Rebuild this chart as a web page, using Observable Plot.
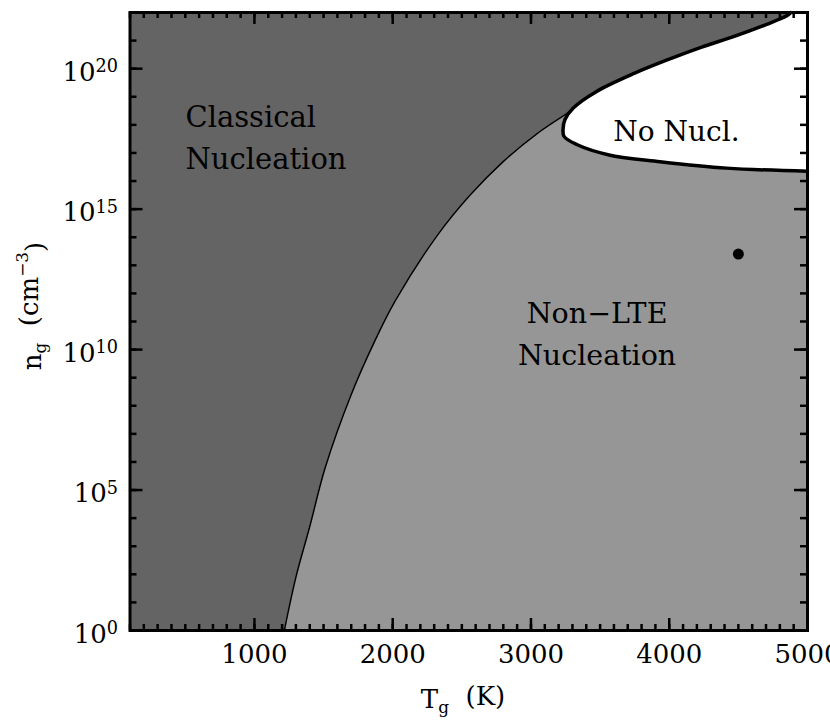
<!DOCTYPE html>
<html><head><meta charset="utf-8">
<script src="https://cdn.jsdelivr.net/npm/d3@7"></script>
<script src="https://cdn.jsdelivr.net/npm/@observablehq/plot@0.6"></script>
<style>body{margin:0;background:#fff}</style>
</head><body><div id="chart"></div>
<script>
// Classical / non-LTE boundary (T in K, log10 n)
const boundaryT    = [1216, 1300, 1400, 1512, 1700, 1870, 2018, 2320, 2560, 2801, 3042, 3331];
const boundaryLogN = [0, 1.9, 3.7, 5.8, 8.4, 10.3, 11.73, 14.05, 15.5, 16.7, 17.68, 18.62];
// "No Nucl." region boundary, ordered by density
const noNuclT    = [5000, 4415, 3933, 3572, 3331, 3239, 3232, 3246, 3306, 3475, 3750, 3990, 4230, 4470, 4700, 4850, 4880];
const noNuclLogN = [16.35, 16.46, 16.69, 16.92, 17.30, 17.59, 17.84, 18.19, 18.60, 19.19, 19.84, 20.32, 20.76, 21.15, 21.57, 21.88, 22.0];
// marked point
const pointT = [4500];
const pointLogN = [13.4];
// ticks
const xMajorTicks = [1000, 2000, 3000, 4000, 5000];
const xMinorTicks = d3.range(100, 5001, 100);
const yMajorExp = [0, 5, 10, 15, 20];
const yMinorExp = d3.range(0, 23, 1);

const TMIN = 100, TMAX = 5000;
const W = 830, H = 726, mL = 129.5, mR = 23, mT = 12, mB = 96;
const pw = W - mL - mR, ph = H - mT - mB;
const dark = "#646464", light = "#969696";
const font = "DejaVu Serif";

const boundary = boundaryT.map((t, i) => ({T: t, n: 10 ** boundaryLogN[i]}));
const noNucl = noNuclT.map((t, i) => ({T: t, n: 10 ** noNuclLogN[i]}));
const points = pointT.map((t, i) => ({T: t, n: 10 ** pointLogN[i]}));

const svg = Plot.plot({
  width: W, height: H,
  marginLeft: mL, marginRight: mR, marginTop: mT, marginBottom: mB,
  style: {fontFamily: font, fontSize: "26px", background: "white", color: "black"},
  x: {domain: [TMIN, TMAX]},
  y: {type: "log", domain: [1, 1e22]},
  marks: [
    Plot.frame({fill: dark}),
    Plot.areaX(boundary, {y: "n", x1: "T", x2: TMAX, fill: light, curve: "catmull-rom"}),
    Plot.line(boundary, {x: "T", y: "n", stroke: "black", strokeWidth: 1.5, curve: "catmull-rom"}),
    Plot.areaX(noNucl, {y: "n", x1: "T", x2: TMAX, fill: "white", curve: "catmull-rom"}),
    Plot.line(noNucl, {x: "T", y: "n", stroke: "black", strokeWidth: 3.5, curve: "catmull-rom"}),
    Plot.dot(points, {x: "T", y: "n", r: 5.5, fill: "black"}),
    Plot.text(["Classical\nNucleation"], {x: 501, y: 10 ** 16.44, text: d => d, textAnchor: "start", lineAnchor: "bottom", lineHeight: 1.44, fontSize: 29, fill: "black"}),
    Plot.text(["Non\u2212LTE\nNucleation"], {x: 3478, y: 10 ** 9.45, text: d => d, textAnchor: "middle", lineAnchor: "bottom", lineHeight: 1.46, fontSize: 28.5, fill: "black"}),
    Plot.text(["No Nucl."], {x: 4052, y: 10 ** 17.44, text: d => d, textAnchor: "middle", lineAnchor: "bottom", fontSize: 28, fill: "black"}),
    // ticks (inward, all four sides)
    Plot.tickX(xMinorTicks, {x: d => d, insetTop: ph - 6, strokeWidth: 2.5}),
    Plot.tickX(xMajorTicks, {x: d => d, insetTop: ph - 12, strokeWidth: 2.5}),
    Plot.tickX(xMinorTicks, {x: d => d, insetBottom: ph - 6, strokeWidth: 2.5}),
    Plot.tickX(xMajorTicks, {x: d => d, insetBottom: ph - 12, strokeWidth: 2.5}),
    Plot.tickY(yMinorExp, {y: d => 10 ** d, insetRight: pw - 7, strokeWidth: 2.5}),
    Plot.tickY(yMajorExp, {y: d => 10 ** d, insetRight: pw - 13, strokeWidth: 2.5}),
    Plot.tickY(yMinorExp, {y: d => 10 ** d, insetLeft: pw - 7, strokeWidth: 2.5}),
    Plot.tickY(yMajorExp, {y: d => 10 ** d, insetLeft: pw - 13, strokeWidth: 2.5}),
    Plot.axisX(xMajorTicks, {anchor: "bottom", tickSize: 0, tickPadding: 14, tickFormat: d => `${d}`, fontSize: 26, label: null}),
    Plot.axisY(yMajorExp.map(e => 10 ** e), {anchor: "left", tickSize: 0, tickPadding: 12, dy: 4, tickFormat: d => `10^${Math.round(Math.log10(d))}`, fontSize: 26, label: null}),
    Plot.frame({stroke: "black", strokeWidth: 3})
  ]
});

// superscripts on the y tick labels
d3.select(svg).selectAll('g[aria-label="y-axis tick label"] text').each(function () {
  const t = this.textContent;
  if (!t.includes("^")) return;
  const [b, e] = t.split("^");
  const s = d3.select(this);
  s.text(b);
  s.append("tspan").attr("dy", "-0.5em").attr("font-size", "0.68em").text(e);
});

// axis titles
const root = d3.select(svg);
const xt = root.append("text").attr("x", 463).attr("y", 708)
  .attr("text-anchor", "middle").attr("font-family", font).attr("font-size", 26).attr("fill", "black");
xt.append("tspan").text("T");
xt.append("tspan").attr("dy", "0.3em").attr("font-size", "0.65em").text("g");
xt.append("tspan").attr("dy", "-0.3em").text("\u00a0\u00a0(K)");

const yt = root.append("text").attr("transform", `translate(41,306) rotate(-90)`)
  .attr("text-anchor", "middle").attr("font-family", font).attr("font-size", 26).attr("fill", "black");
yt.append("tspan").text("n");
yt.append("tspan").attr("dy", "0.3em").attr("font-size", "0.65em").text("g");
yt.append("tspan").attr("dy", "-0.3em").text("\u00a0\u00a0(cm");
yt.append("tspan").attr("dy", "-0.6em").attr("font-size", "0.65em").text("\u22123");
yt.append("tspan").attr("dy", "0.6em").text(")");

document.getElementById("chart").appendChild(svg);
</script>
</body></html>
